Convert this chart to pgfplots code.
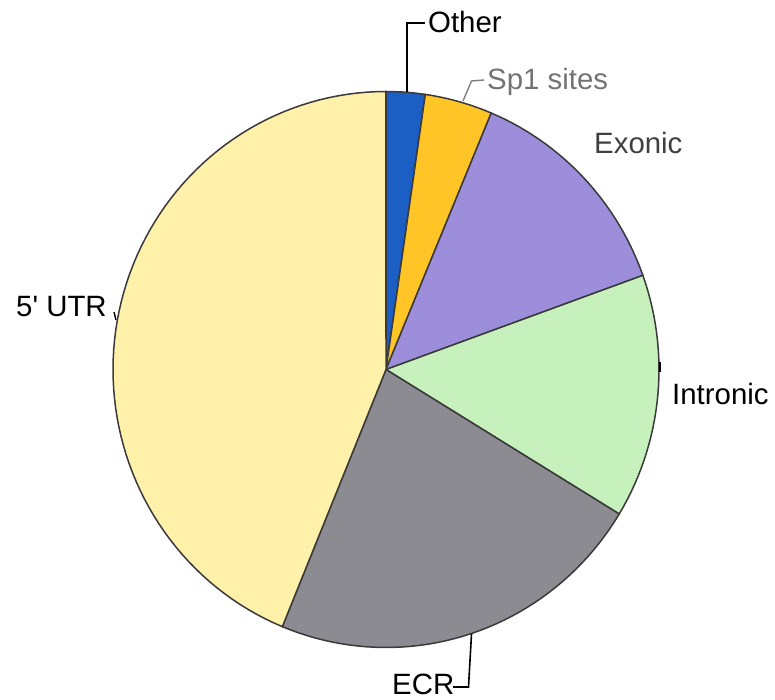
\documentclass[border=0pt]{standalone}
\usepackage{pgfplots}
\pgfplotsset{compat=1.18}
\usepackage{fontspec}
\setmainfont{Liberation Sans}
\definecolor{cOther}{HTML}{1C5FC4}
\definecolor{cSp}{HTML}{FFC425}
\definecolor{cExon}{HTML}{9D8EDB}
\definecolor{cIntr}{HTML}{C6F1BC}
\definecolor{cECR}{HTML}{8B8B91}
\definecolor{cUTR}{HTML}{FFF0AA}
\definecolor{edge}{HTML}{3A3A3A}
% slice shares in percent (clockwise from 12 o'clock)
\def\pOther{2.3}
\def\pSp{4.0}
\def\pExon{13.2}
\def\pIntr{14.2}
\def\pECR{22.5}
\def\pUTR{43.8}
\begin{document}
\begin{tikzpicture}
\pgfmathsetmacro\aA{3.6*\pOther}
\pgfmathsetmacro\aB{\aA+3.6*\pSp}
\pgfmathsetmacro\aC{\aB+3.6*\pExon}
\pgfmathsetmacro\aD{\aC+3.6*\pIntr}
\pgfmathsetmacro\aE{\aD+3.6*\pECR}
\pgfmathsetmacro\aF{\aE+3.6*\pUTR}
\begin{axis}[width=775bp,height=700bp,scale only axis,
  xmin=0,xmax=775,ymin=0,ymax=700,y dir=reverse,hide axis,clip=false]
\path (axis cs:0,0) rectangle (axis cs:775,700);
\addplot[draw=edge,line width=1.5bp,fill=cOther,domain=0:\aA,samples=6]
  ({386+273*sin(x)},{369.5-278*cos(x)}) -- (axis cs:386,369.5) -- cycle;
\addplot[draw=edge,line width=1.5bp,fill=cSp,domain=\aA:\aB,samples=10]
  ({386+273*sin(x)},{369.5-278*cos(x)}) -- (axis cs:386,369.5) -- cycle;
\addplot[draw=edge,line width=1.5bp,fill=cExon,domain=\aB:\aC,samples=30]
  ({386+273*sin(x)},{369.5-278*cos(x)}) -- (axis cs:386,369.5) -- cycle;
\addplot[draw=edge,line width=1.5bp,fill=cIntr,domain=\aC:\aD,samples=30]
  ({386+273*sin(x)},{369.5-278*cos(x)}) -- (axis cs:386,369.5) -- cycle;
\addplot[draw=edge,line width=1.5bp,fill=cECR,domain=\aD:\aE,samples=45]
  ({386+273*sin(x)},{369.5-278*cos(x)}) -- (axis cs:386,369.5) -- cycle;
\addplot[draw=edge,line width=1.5bp,fill=cUTR,domain=\aE:\aF,samples=80]
  ({386+273*sin(x)},{369.5-278*cos(x)}) -- (axis cs:386,369.5) -- cycle;
% leader lines
\draw[black,line width=1.6bp] (axis cs:407,92) -- (axis cs:407,23) -- (axis cs:425,23);
\draw[gray,line width=1.4bp] (axis cs:463,101) -- (axis cs:471.5,81) -- (axis cs:484,80);
\draw[black,line width=1.6bp] (axis cs:471.5,634) -- (axis cs:468.5,687) -- (axis cs:453,687);
\draw[black,line width=1.4bp] (axis cs:114,312) -- (axis cs:116,320);
\draw[black,line width=1.4bp] (axis cs:660,362) -- (axis cs:660,372);
% labels
\begin{scope}[every node/.style={anchor=base west,inner sep=0pt,font=\fontsize{29.5}{32}\selectfont}]
\node[black] at (axis cs:428,33) {Other};
\node[black!55] at (axis cs:487,90) {Sp1 sites};
\node[black!75] at (axis cs:594,154) {Exonic};
\node[black] at (axis cs:672,405) {Intronic};
\node[black] at (axis cs:16,317) {5\textquotesingle{} UTR};
\node[black] at (axis cs:392,695) {ECR};
\end{scope}
\end{axis}
\end{tikzpicture}
\end{document}
